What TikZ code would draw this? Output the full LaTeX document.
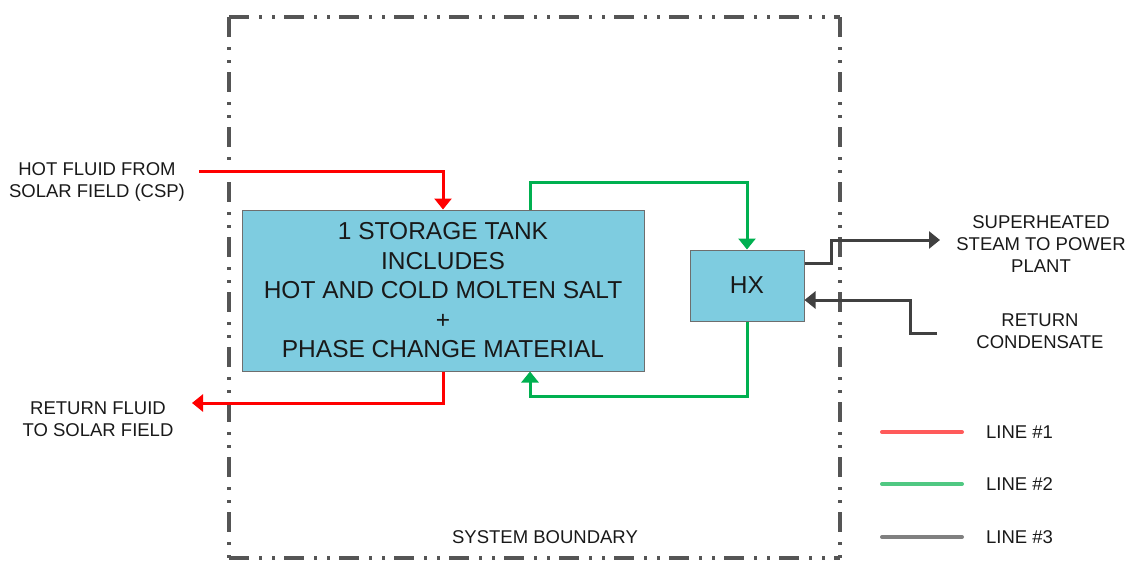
\documentclass[tikz,border=0pt]{standalone}
\usepackage{fontspec}
\setmainfont{Liberation Sans}
\usetikzlibrary{arrows.meta}
\definecolor{tankfill}{RGB}{126,204,224}
\definecolor{tankline}{RGB}{110,110,110}
\definecolor{bnd}{RGB}{85,85,85}
\definecolor{lred}{RGB}{255,0,0}
\definecolor{lgreen}{RGB}{0,176,80}
\definecolor{lgray}{RGB}{64,64,64}
\definecolor{legred}{RGB}{255,90,90}
\definecolor{leggreen}{RGB}{80,200,130}
\definecolor{leggray}{RGB}{128,128,128}
\tikzset{
  lbl/.style={align=center, text=black!90, font=\fontsize{18.5}{22.4}\selectfont, inner sep=0pt},
  tankbox/.style={draw=tankline, fill=tankfill, line width=1pt, align=center, inner sep=0pt,
     font=\fontsize{24.5}{29.5}\selectfont, text=black!90},
  boundary/.style={draw=bnd, line width=3.5pt, line cap=butt,
     dash pattern=on 20pt off 10pt on 3pt off 10pt on 3pt off 9pt},
  arr/.style={-{Triangle[length=11pt,width=17pt]}},
  pipe1/.style={draw=lred, line width=3pt},
  pipe2/.style={draw=lgreen, line width=3pt},
  pipe3/.style={draw=lgray, line width=3pt},
  legline/.style={line width=4pt, line cap=round},
}
\begin{document}
\begin{tikzpicture}[x=1pt,y=-1pt]
\useasboundingbox (0,0) rectangle (1128,562);
% system boundary
\coordinate (bTL) at (229,17);
\coordinate (bTR) at (840,17);
\coordinate (bBL) at (229,558);
\coordinate (bBR) at (840,558);
\draw[boundary] (bTL) -- (bTR);
\draw[boundary] (bTL) -- (bBL);
\draw[boundary] (bTR) -- (bBR);
\draw[boundary] (bBL) -- (bBR);
\node[lbl] (sb) at (545,537) {SYSTEM BOUNDARY};

% main blocks
\node[tankbox, minimum width=402pt, minimum height=161pt] (tank) at (443,290.5)
  {1 STORAGE TANK\\INCLUDES\\HOT AND COLD MOLTEN SALT\\+\\PHASE CHANGE MATERIAL};
\node[tankbox, minimum width=114pt, minimum height=71pt] (hx) at (747,285.5) {HX};

% line 1 (red)
\coordinate (hotin) at (199,171);
\coordinate (retout) at (192,403);
\draw[pipe1, arr] (hotin) -| (tank.north);
\draw[pipe1, arr] (tank.south) |- (retout);
\node[lbl] (hotlbl) at (97,182) {HOT FLUID FROM\\SOLAR FIELD (CSP)};
\node[lbl] (retlbl) at (98,419) {RETURN FLUID\\TO SOLAR FIELD};

% line 2 (green)
\coordinate (g1) at (530,182);
\coordinate (g2) at (530,396);
\draw[pipe2, arr] ([xshift=87pt]tank.north) -- (g1) -| (hx.north);
\draw[pipe2, arr] (hx.south) |- (g2) -- ([xshift=87pt]tank.south);

% line 3 (gray)
\coordinate (s1) at (831,240);
\coordinate (steamout) at (940,240);
\coordinate (condin) at (937,333);
\coordinate (c1) at (910,300);
\draw[pipe3, arr] ([yshift=22.5pt]hx.east) -| (s1) -- (steamout);
\draw[pipe3, arr] (condin) -| (c1) -- ([yshift=-14.5pt]hx.east);
\node[lbl] (steamlbl) at (1041,244) {SUPERHEATED\\STEAM TO POWER\\PLANT};
\node[lbl] (condlbl) at (1040,331) {RETURN\\CONDENSATE};

% legend
\coordinate (l1a) at (882,432); \coordinate (l1b) at (962,432);
\coordinate (l2a) at (882,484); \coordinate (l2b) at (962,484);
\coordinate (l3a) at (882,537); \coordinate (l3b) at (962,537);
\draw[legline, legred] (l1a) -- (l1b);
\draw[legline, leggreen] (l2a) -- (l2b);
\draw[legline, leggray] (l3a) -- (l3b);
\node[lbl, anchor=west] (leg1) at (986,432) {LINE \#1};
\node[lbl, anchor=west] (leg2) at (986,484) {LINE \#2};
\node[lbl, anchor=west] (leg3) at (986,537) {LINE \#3};
\end{tikzpicture}
\end{document}
